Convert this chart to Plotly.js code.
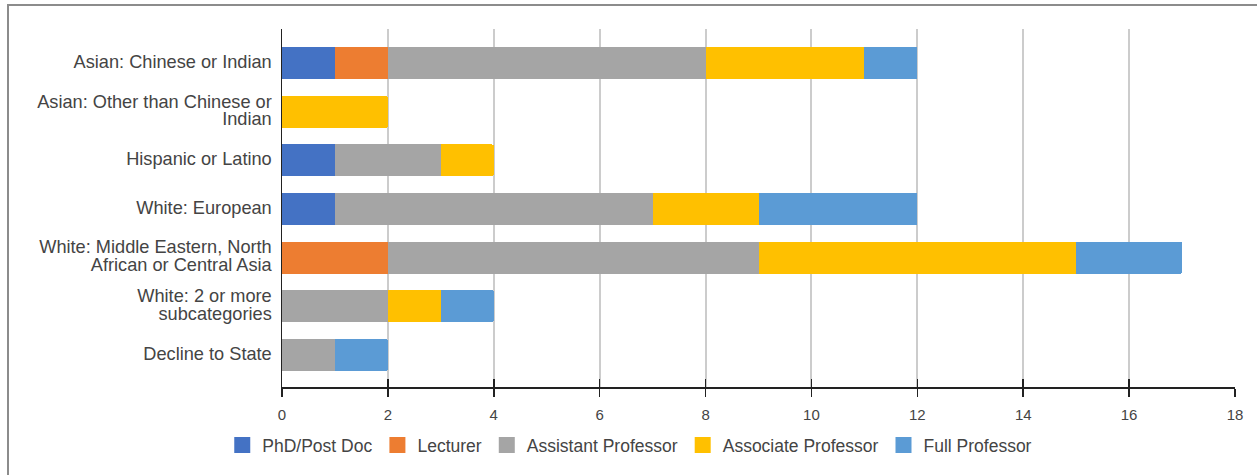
<!DOCTYPE html>
<html>
<head>
<meta charset="utf-8">
<script src="https://cdn.plot.ly/plotly-3.0.1.min.js"></script>
<style>
  html, body { margin: 0; padding: 0; background: #fff; overflow: hidden; }
  #frame { position: absolute; left: 7px; top: 4px; width: 1400px; height: 600px;
           border: 2px solid #8c8c8c; box-sizing: border-box; pointer-events: none; }
  #chart { position: absolute; left: 0; top: 0; width: 1257px; height: 475px; }
</style>
</head>
<body>
<div id="chart"></div>
<div id="frame"></div>
<script>
const categories = [
  "Asian: Chinese or Indian",
  "Asian: Other than Chinese or<br>Indian",
  "Hispanic or Latino",
  "White: European",
  "White: Middle Eastern, North<br>African or Central Asia",
  "White: 2 or more<br>subcategories",
  "Decline to State"
];
const seriesNames = ["PhD/Post Doc", "Lecturer", "Assistant Professor", "Associate Professor", "Full Professor"];
const phdPostDoc    = [1, 0, 1, 1, 0, 0, 0];
const lecturer      = [1, 0, 0, 0, 2, 0, 0];
const assistantProf = [6, 0, 2, 6, 7, 2, 1];
const associateProf = [3, 2, 1, 2, 6, 1, 0];
const fullProf      = [1, 0, 0, 3, 2, 1, 1];
const tickValues = [0, 2, 4, 6, 8, 10, 12, 14, 16, 18];

const seriesValues = [phdPostDoc, lecturer, assistantProf, associateProf, fullProf];
const colors = ["#4472c4", "#ed7d31", "#a5a5a5", "#ffc000", "#5b9bd5"];

const traces = seriesNames.map((name, i) => ({
  type: "bar",
  orientation: "h",
  name: name,
  legendgroup: name,
  showlegend: false,
  y: categories,
  x: seriesValues[i],
  marker: { color: colors[i], line: { width: 0 } },
  hoverinfo: "x+name"
}));
// legend-only entries (square swatches like the reference)
seriesNames.forEach((name, i) => {
  traces.push({
    type: "scatter", mode: "markers", name: name, legendgroup: name,
    x: [null], y: [null], showlegend: true,
    marker: { symbol: "square", size: 16, color: colors[i], line: { width: 0 } },
    hoverinfo: "skip"
  });
});
// helper trace so that the second (inside-tick) x axis is drawn
traces.push({ type: "scatter", x: [], y: [], xaxis: "x2", yaxis: "y", showlegend: false, hoverinfo: "skip" });

const font = { family: "Liberation Sans, Arial, sans-serif", color: "#444444" };

const layout = {
  width: 1257, height: 475,
  margin: { l: 282, r: 22, t: 29, b: 88, pad: 0 },
  paper_bgcolor: "#ffffff", plot_bgcolor: "#ffffff",
  barmode: "stack",
  bargap: 0.34,
  barcornerradius: 2,
  font: Object.assign({ size: 15 }, font),
  showlegend: true,
  legend: {
    orientation: "h",
    xref: "container", yref: "container",
    x: 0.501, xanchor: "center",
    y: 0.063, yanchor: "middle",
    font: Object.assign({ size: 17.5 }, font),
    itemsizing: "trace",
    traceorder: "normal",
    itemclick: false
  },
  xaxis: {
    range: [0, 18], tickvals: tickValues, ticktext: tickValues.map(String),
    showgrid: true, gridcolor: "#cccccc", gridwidth: 2,
    zeroline: false,
    showline: true, linecolor: "#222222", linewidth: 1.5,
    ticks: "outside", ticklen: 8, tickwidth: 1.5, tickcolor: "#222222",
    ticklabelstandoff: 5,
    tickfont: Object.assign({ size: 15 }, font),
    fixedrange: true
  },
  xaxis2: {
    overlaying: "x", anchor: "y", side: "bottom",
    range: [0, 18], tickvals: tickValues,
    showticklabels: false, showgrid: false, zeroline: false, showline: false,
    ticks: "inside", ticklen: 8, tickwidth: 1.5, tickcolor: "#222222",
    fixedrange: true
  },
  yaxis: {
    type: "category",
    range: [6.66, -0.70],
    tickvals: categories,
    ticktext: categories.map(c => '<span style="font-size:18.2px">' + c + '</span>'),
    showgrid: false, zeroline: false,
    showline: true, linecolor: "#222222", linewidth: 1.5,
    ticks: "", ticklabelstandoff: 6,
    tickfont: Object.assign({ size: 13.8 }, font),
    fixedrange: true
  }
};

Plotly.newPlot("chart", traces, layout, { displayModeBar: false, staticPlot: true });
</script>
</body>
</html>
